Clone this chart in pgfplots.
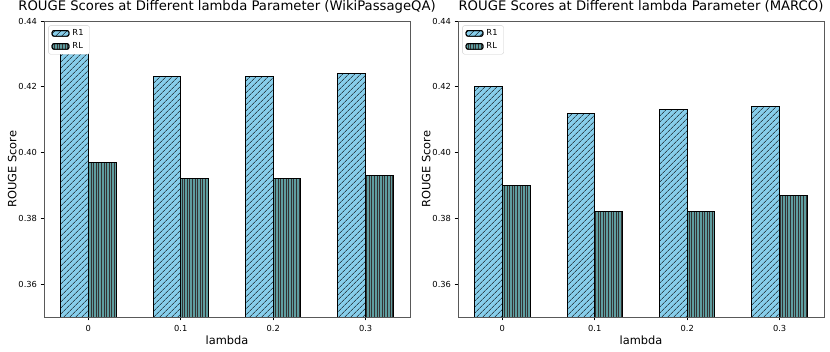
\documentclass[border=0pt]{standalone}
\usepackage{fontspec}
\setmainfont{DejaVu Sans}
\usepackage{pgfplots}
\pgfplotsset{compat=1.18}
\usetikzlibrary{patterns.meta}

\definecolor{skyb}{RGB}{135,206,235}
\definecolor{cadet}{RGB}{95,158,160}

\pgfplotsset{
  rougeaxis/.style={
    anchor=south west,
    scale only axis,
    width=366pt, height=296pt,
    xmin=-0.48, xmax=3.48,
    ymin=0.35, ymax=0.44,
    xtick={0,1,2,3},
    xticklabels={0,0.1,0.2,0.3},
    ytick={0.36,0.38,0.40,0.42,0.44},
    yticklabels={0.36,0.38,0.40,0.42,0.44},
    tick pos=left,
    tick align=outside,
    major tick length=3.5pt,
    tick style={black, line width=0.6pt},
    axis line style={black!65, line width=0.8pt},
    ticklabel style={font=\fontsize{8.3}{10}\selectfont},
    xticklabel style={yshift=-1pt},
    label style={font=\fontsize{11.4}{13}\selectfont},
    xlabel={lambda},
    ylabel={ROUGE Score},
    xlabel style={yshift=2pt},
    ylabel style={yshift=-5pt},
    title style={font=\fontsize{13.2}{15}\selectfont, at={(0.5,1)}, anchor=base, yshift=4pt},
    ybar, bar width=0.3,
    legend style={at={(0.012,0.985)}, anchor=north west, draw=black!20,
      rounded corners=2pt, fill=white, font=\fontsize{8.3}{10}\selectfont,
      inner xsep=3pt, inner ysep=2pt, row sep=1.5pt,
      nodes={inner xsep=3pt}},
    legend cell align=left,
    legend image code/.code={\draw[#1] (0pt,-2.8pt) rectangle (17pt,2.8pt);},
  },
  r1bar/.style={fill=skyb, draw=black, line width=0.9pt, bar shift=-0.15,
    postaction={pattern={Lines[angle=45,distance=4pt,line width=0.5pt]}, pattern color=black}},
  rlbar/.style={fill=cadet, draw=black, line width=0.9pt, bar shift=0.15,
    postaction={pattern={Lines[angle=90,distance=2.6pt,line width=0.7pt]}, pattern color=black!80}},
}

\begin{document}
\begin{tikzpicture}
\path[use as bounding box] (0pt,0pt) rectangle (830pt,352pt);

\begin{axis}[rougeaxis, at={(44pt,35pt)},
  title={ROUGE Scores at Different lambda Parameter (WikiPassageQA)}]
\addplot[r1bar] coordinates {(0,0.433) (1,0.423) (2,0.423) (3,0.424)};
\addplot[rlbar] coordinates {(0,0.397) (1,0.392) (2,0.392) (3,0.393)};
\legend{R1,RL}
\end{axis}

\begin{axis}[rougeaxis, at={(458pt,35pt)},
  title={ROUGE Scores at Different lambda Parameter (MARCO)}]
\addplot[r1bar] coordinates {(0,0.420) (1,0.412) (2,0.413) (3,0.414)};
\addplot[rlbar] coordinates {(0,0.390) (1,0.382) (2,0.382) (3,0.387)};
\legend{R1,RL}
\end{axis}
\end{tikzpicture}
\end{document}
